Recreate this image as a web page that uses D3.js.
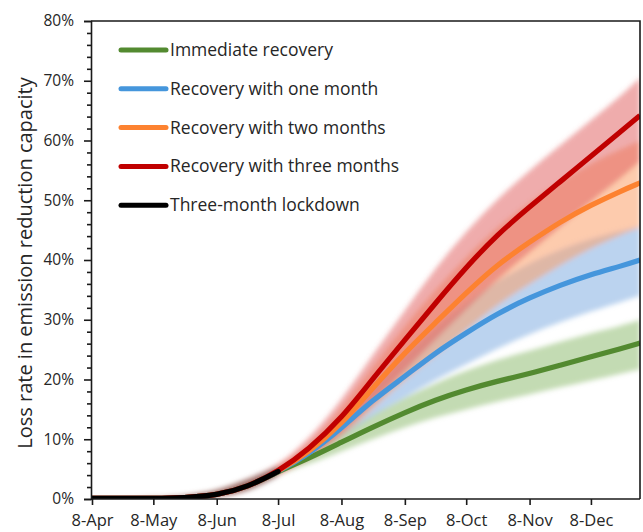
<!DOCTYPE html>
<html>
<head>
<meta charset="utf-8">
<script src="https://cdn.jsdelivr.net/npm/d3@7"></script>
<style>
  html, body { margin: 0; padding: 0; background: #fff; }
  svg text { font-family: "Open Sans", "Noto Sans", sans-serif; fill: #262626; }
</style>
</head>
<body>
<div id="chart"></div>
<script>
// Sample dates (day-of-month 8 / 23, ending at the right frame)
const DATES = [
  "2020-04-08", "2020-04-23", "2020-05-08", "2020-05-23", "2020-06-08", "2020-06-23",
  "2020-07-08", "2020-07-23", "2020-08-08", "2020-08-23", "2020-09-08", "2020-09-23",
  "2020-10-08", "2020-10-23", "2020-11-08", "2020-11-23", "2020-12-08", "2020-12-23",
  "2021-01-01",
];

// Lockdown phase (first 7 dates), values in %
const LOCKDOWN = [0.1, 0.1, 0.1, 0.2, 0.6, 2.0, 4.6];
const LOCKDOWN_LO = [0.1, 0.1, 0.1, 0.1, 0.3, 1.1, 3.8];
const LOCKDOWN_HI = [0.1, 0.1, 0.2, 0.5, 1.3, 3.3, 5.5];

// Recovery scenarios, from 8-Jul onwards (13 dates), values in %
const IMMEDIATE = [4.6, 6.8, 9.5, 12.0, 14.5, 16.6, 18.3, 19.7, 21.0, 22.4, 23.8, 25.2, 26.1];
const IMMEDIATE_LO = [4.2, 5.8, 8.0, 10.0, 12.0, 13.7, 15.0, 16.3, 17.5, 18.7, 19.8, 21.0, 21.7];
const IMMEDIATE_HI = [5.1, 7.8, 11.0, 14.0, 17.0, 19.4, 21.5, 23.3, 24.8, 26.3, 27.8, 29.0, 30.0];

const ONE_MONTH = [4.6, 7.5, 11.8, 16.5, 20.5, 24.5, 27.8, 31.0, 33.7, 35.8, 37.6, 39.0, 40.0];
const ONE_MONTH_LO = [4.2, 6.5, 10.3, 14.0, 17.0, 20.0, 22.5, 25.2, 27.6, 29.6, 31.4, 33.0, 34.0];
const ONE_MONTH_HI = [5.1, 8.5, 13.3, 19.0, 24.0, 28.8, 32.8, 36.5, 39.5, 41.8, 43.6, 44.9, 45.6];

const TWO_MONTHS = [4.6, 7.8, 12.5, 18.5, 24.5, 29.5, 34.5, 39.2, 43.0, 46.4, 49.2, 51.6, 52.9];
const TWO_MONTHS_LO = [4.1, 6.6, 10.3, 15.0, 20.0, 24.0, 28.3, 32.5, 36.0, 39.2, 42.0, 44.3, 45.4];
const TWO_MONTHS_HI = [5.3, 9.0, 15.0, 22.0, 29.0, 35.0, 40.5, 45.5, 49.6, 53.2, 56.2, 58.6, 60.0];

const THREE_MONTHS = [4.6, 8.3, 13.5, 20.0, 26.6, 32.8, 38.8, 44.2, 48.9, 53.1, 57.4, 61.6, 64.2];
const THREE_MONTHS_LO = [4.0, 6.8, 10.8, 16.0, 21.5, 26.7, 31.8, 36.7, 41.3, 45.6, 49.8, 53.8, 56.5];
const THREE_MONTHS_HI = [5.5, 10.0, 16.5, 24.0, 31.5, 38.7, 44.8, 50.2, 55.0, 59.2, 63.4, 67.6, 70.5];

const LEGEND_LABELS = [
  "Immediate recovery",
  "Recovery with one month",
  "Recovery with two months",
  "Recovery with three months",
  "Three-month lockdown",
];

const Y_TICKS = [0, 10, 20, 30, 40, 50, 60, 70, 80];
const X_TICKS = [
  "2020-04-08", "2020-05-08", "2020-06-08", "2020-07-08", "2020-08-08",
  "2020-09-08", "2020-10-08", "2020-11-08", "2020-12-08",
];

const CONFIG = {
  width: 643,
  height: 532,
  plot: { left: 91, right: 640, top: 21, bottom: 499 },
  lineWidth: 5.2,
};

const COLORS = {
  immediate: "#538a30",
  oneMonth: "#4596dc",
  twoMonths: "#fd8230",
  threeMonths: "#c00000",
  lockdown: "#000000",
  immediateBand: "#a3c88a",
  oneMonthBand: "#8db6e4",
  twoMonthsBand: "#fba06a",
  threeMonthsBand: "#e05a5a",
  lockdownBand: "#555555",
  axis: "#1a1a1a",
};

const parseDate = d3.timeParse("%Y-%m-%d");
const dates = DATES.map(parseDate);
const nLock = LOCKDOWN.length;

// Pre-recovery part is shared by every scenario (they all sit under the lockdown curve)
function buildSeries(vals, lo, hi) {
  const pre = LOCKDOWN.slice(0, nLock - 1);
  const preLo = LOCKDOWN_LO.slice(0, nLock - 1);
  const preHi = LOCKDOWN_HI.slice(0, nLock - 1);
  const all = pre.concat(vals);
  const allLo = preLo.concat(lo);
  const allHi = preHi.concat(hi);
  return all.map((v, i) => ({ date: dates[i], v, lo: allLo[i], hi: allHi[i] }));
}

const series = [
  { key: "immediate", data: buildSeries(IMMEDIATE, IMMEDIATE_LO, IMMEDIATE_HI), color: COLORS.immediate, band: COLORS.immediateBand, bandOpacity: 0.65 },
  { key: "oneMonth", data: buildSeries(ONE_MONTH, ONE_MONTH_LO, ONE_MONTH_HI), color: COLORS.oneMonth, band: COLORS.oneMonthBand, bandOpacity: 0.6 },
  { key: "twoMonths", data: buildSeries(TWO_MONTHS, TWO_MONTHS_LO, TWO_MONTHS_HI), color: COLORS.twoMonths, band: COLORS.twoMonthsBand, bandOpacity: 0.55 },
  { key: "threeMonths", data: buildSeries(THREE_MONTHS, THREE_MONTHS_LO, THREE_MONTHS_HI), color: COLORS.threeMonths, band: COLORS.threeMonthsBand, bandOpacity: 0.5 },
];

const lockdown = LOCKDOWN.map((v, i) => ({ date: dates[i], v, lo: LOCKDOWN_LO[i], hi: LOCKDOWN_HI[i] }));

const P = CONFIG.plot;

const svg = d3
  .select("#chart")
  .append("svg")
  .attr("width", CONFIG.width)
  .attr("height", CONFIG.height);

const x = d3
  .scaleTime()
  .domain([parseDate("2020-04-08"), parseDate("2021-01-01")])
  .range([P.left + 1, P.right]);

const y = d3.scaleLinear().domain([0, 80]).range([P.bottom, P.top]);

const defs = svg.append("defs");
defs
  .append("clipPath")
  .attr("id", "plot-clip")
  .append("rect")
  .attr("x", P.left)
  .attr("y", P.top)
  .attr("width", P.right - P.left)
  .attr("height", P.bottom - P.top);

defs
  .append("filter")
  .attr("id", "soft")
  .attr("x", "-10%")
  .attr("y", "-10%")
  .attr("width", "120%")
  .attr("height", "120%")
  .append("feGaussianBlur")
  .attr("stdDeviation", 2.5);

const plot = svg.append("g").attr("clip-path", "url(#plot-clip)");

const area = d3
  .area()
  .x((d) => x(d.date))
  .y0((d) => y(d.lo))
  .y1((d) => y(d.hi))
  .curve(d3.curveBasis);

const line = d3
  .line()
  .x((d) => x(d.date))
  .y((d) => y(d.v))
  .curve(d3.curveBasis);

// Uncertainty bands (blurred edges)
const bands = plot.append("g").attr("filter", "url(#soft)");
series.forEach((s) => {
  bands
    .append("path")
    .attr("d", area(s.data))
    .attr("fill", s.band)
    .attr("fill-opacity", s.bandOpacity);
});
bands
  .append("path")
  .attr("d", area(lockdown))
  .attr("fill", COLORS.lockdownBand)
  .attr("fill-opacity", 0.45);

// Central lines
series.forEach((s) => {
  plot
    .append("path")
    .attr("d", line(s.data))
    .attr("fill", "none")
    .attr("stroke", s.color)
    .attr("stroke-width", CONFIG.lineWidth)
    .attr("stroke-linejoin", "round");
});

plot
  .append("path")
  .attr("d", line(lockdown))
  .attr("fill", "none")
  .attr("stroke", COLORS.lockdown)
  .attr("stroke-width", CONFIG.lineWidth)
  .attr("stroke-linecap", "round");

// Axes
const yAxis = svg
  .append("g")
  .attr("transform", `translate(${P.left},0)`)
  .call(
    d3.axisLeft(y)
      .tickValues(Y_TICKS)
      .tickSize(7)
      .tickPadding(10)
      .tickFormat((d) => `${d}%`)
  );

svg
  .append("g")
  .attr("transform", `translate(${P.left},0)`)
  .call(
    d3.axisLeft(y)
      .tickValues(d3.range(0, 81, 2).filter((d) => d % 10 !== 0))
      .tickSize(4)
      .tickFormat("")
  )
  .call((g) => g.select(".domain").remove());

const xAxis = svg
  .append("g")
  .attr("transform", `translate(0,${P.bottom})`)
  .call(
    d3.axisBottom(x)
      .tickValues(X_TICKS.map(parseDate))
      .tickSize(6)
      .tickPadding(9)
      .tickFormat(d3.timeFormat("%-d-%b"))
  );

yAxis.selectAll("text").style("font-size", "15.5px").attr("fill", "#262626");
xAxis.selectAll("text").style("font-size", "16.5px").attr("fill", "#262626");
[yAxis, xAxis].forEach((a) => {
  a.selectAll("line, path").attr("stroke", COLORS.axis).attr("stroke-width", 1.6);
});
svg.selectAll(".tick line").attr("stroke", COLORS.axis).attr("stroke-width", 1.6);

// x axis domain should span the full frame
xAxis.select(".domain").attr("d", `M${P.left},0H${P.right}`);

// top and right frame
svg
  .append("path")
  .attr("d", `M${P.left},${P.top}H${P.right}V${P.bottom}`)
  .attr("fill", "none")
  .attr("stroke", COLORS.axis)
  .attr("stroke-width", 1.6);

// Y axis title
svg
  .append("text")
  .attr("transform", `translate(32,${(P.top + P.bottom) / 2 + 3}) rotate(-90)`)
  .attr("text-anchor", "middle")
  .style("font-size", "20px")
  .text("Loss rate in emission reduction capacity");

// Legend
const legendColors = [COLORS.immediate, COLORS.oneMonth, COLORS.twoMonths, COLORS.threeMonths, COLORS.lockdown];
const legend = svg.append("g").attr("transform", "translate(121,50)");
LEGEND_LABELS.forEach((label, i) => {
  const row = legend.append("g").attr("transform", `translate(0,${i * 38.8})`);
  row
    .append("line")
    .attr("x1", 0)
    .attr("x2", 45)
    .attr("stroke", legendColors[i])
    .attr("stroke-width", 5)
    .attr("stroke-linecap", "round");
  row
    .append("text")
    .attr("x", 49)
    .attr("y", 6)
    .style("font-size", "17.5px")
    .text(label);
});
</script>
</body>
</html>
